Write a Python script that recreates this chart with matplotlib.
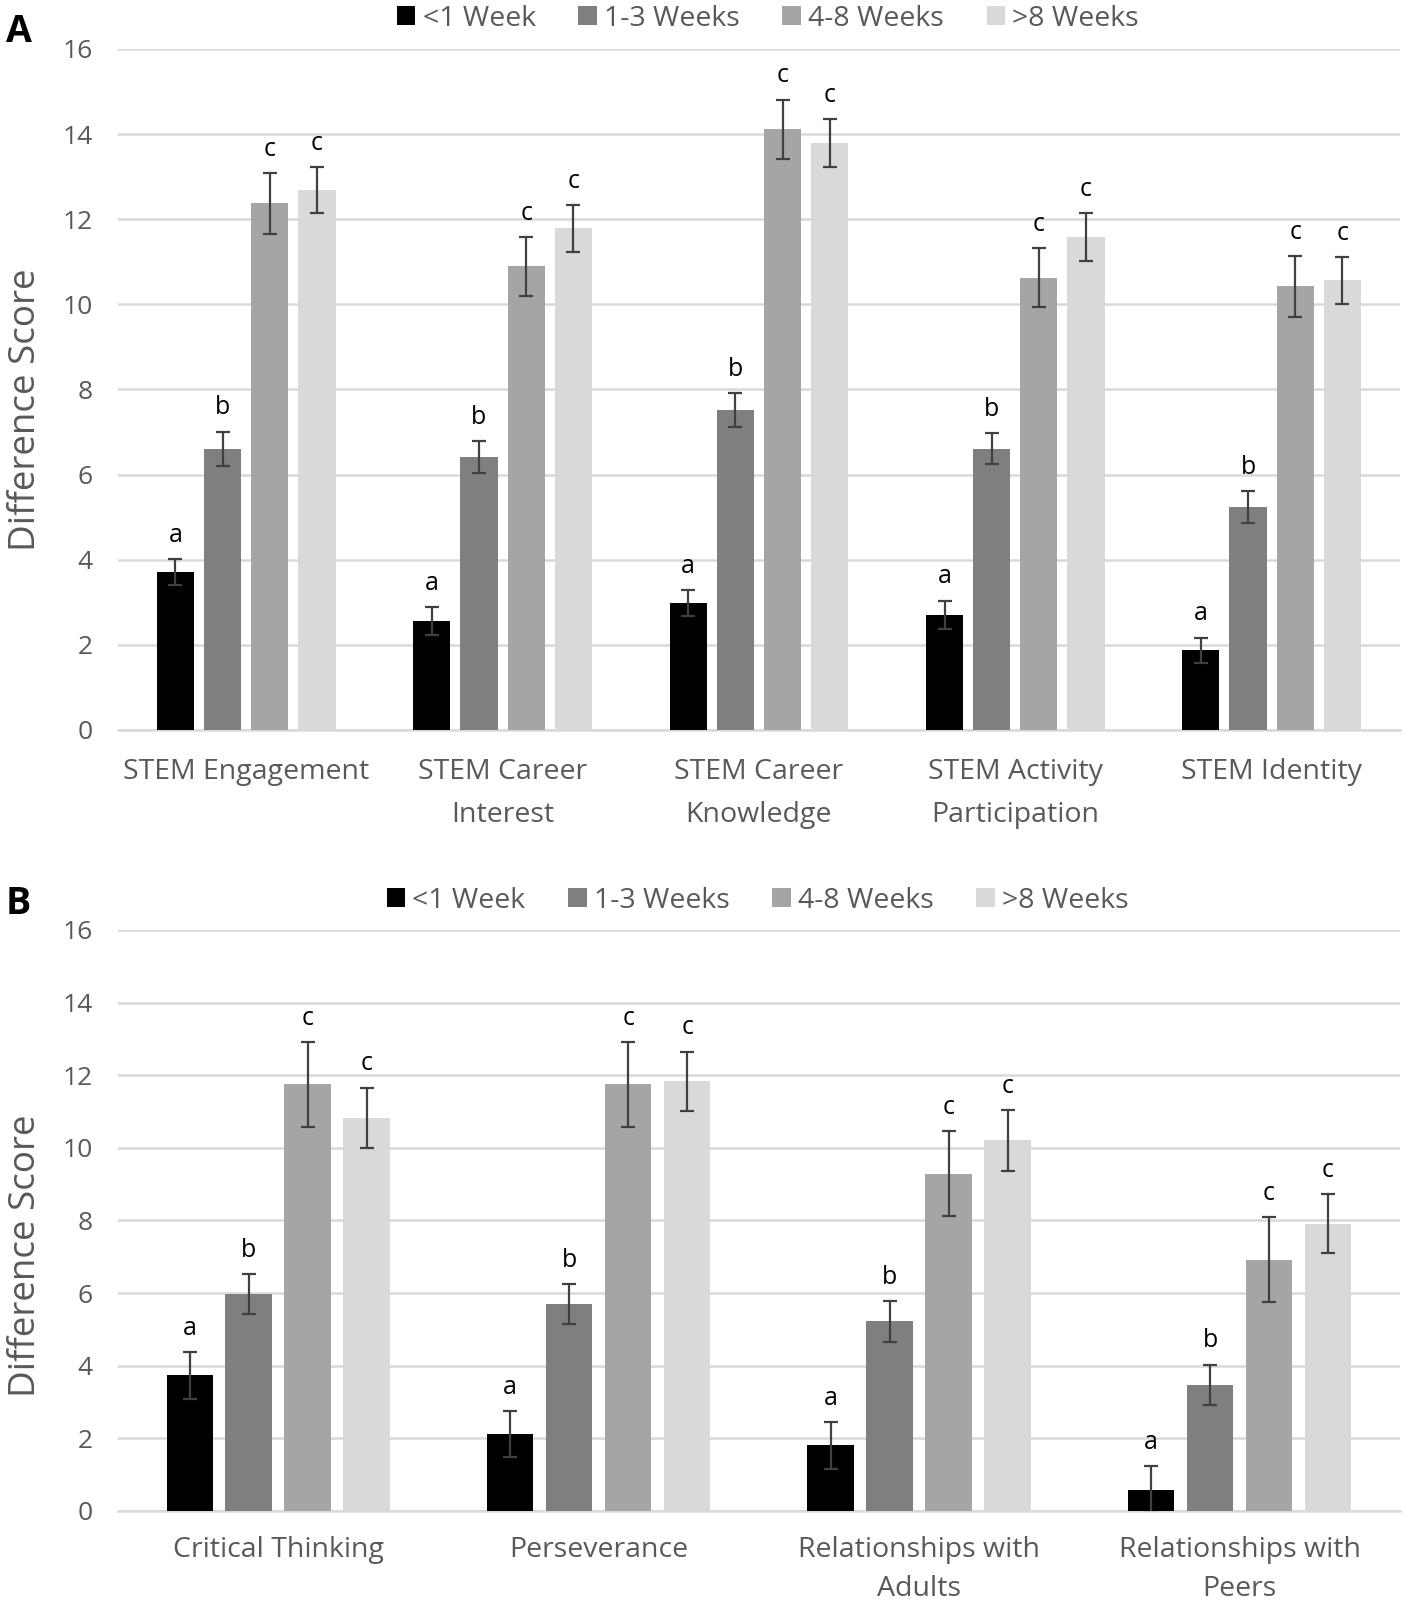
import numpy as np
import matplotlib
matplotlib.use('Agg')
import matplotlib.pyplot as plt

plt.rcParams['font.family'] = ['Open Sans', 'DejaVu Sans']

series = ['<1 Week', '1-3 Weeks', '4-8 Weeks', '>8 Weeks']
series_colors = ['#000000', '#7f7f7f', '#a5a5a5', '#d9d9d9']

# panel A
cats_a = ['STEM Engagement', 'STEM Career\nInterest', 'STEM Career\nKnowledge',
          'STEM Activity\nParticipation', 'STEM Identity']
vals_a = [[3.71, 2.55, 2.98, 2.71, 1.87],
          [6.61, 6.41, 7.51, 6.61, 5.24],
          [12.37, 10.89, 14.11, 10.63, 10.42],
          [12.68, 11.79, 13.79, 11.58, 10.56]]
errs_a = [[0.30, 0.33, 0.30, 0.33, 0.30],
          [0.40, 0.37, 0.40, 0.37, 0.37],
          [0.72, 0.70, 0.70, 0.70, 0.72],
          [0.54, 0.55, 0.57, 0.56, 0.55]]

# panel B
cats_b = ['Critical Thinking', 'Perseverance', 'Relationships with\nAdults',
          'Relationships with\nPeers']
vals_b = [[3.73, 2.12, 1.81, 0.58],
          [5.97, 5.70, 5.22, 3.47],
          [11.75, 11.75, 9.29, 6.92],
          [10.83, 11.83, 10.21, 7.91]]
errs_b = [[0.65, 0.64, 0.65, 0.65],
          [0.55, 0.56, 0.56, 0.56],
          [1.17, 1.17, 1.18, 1.17],
          [0.83, 0.82, 0.84, 0.82]]

sig_letters = ['a', 'b', 'c', 'c']

fig = plt.figure(figsize=(14.18, 16.05), dpi=100)
ax_a = fig.add_axes([0.0832, 0.5452, 0.904, 0.4243])
ax_b = fig.add_axes([0.0832, 0.0586, 0.904, 0.3620])

width = 0.145
step = 0.184
txt_grey = '#595959'


def draw_panel(ax, cats, vals, errs, legend_xy, ylab_y, lsp, xpad):
    x = np.arange(len(cats))
    for i in range(len(series)):
        xi = x + (i - 1.5) * step
        ax.bar(xi, vals[i], width, color=series_colors[i], label=series[i],
               yerr=errs[i], zorder=3,
               error_kw=dict(ecolor='#404040', elinewidth=1.6, capsize=5, capthick=1.6))
        for xx, v, e in zip(xi, vals[i], errs[i]):
            ax.annotate(sig_letters[i], (xx, v + e), xytext=(0, 8),
                        textcoords='offset points', ha='center', va='bottom',
                        fontsize=18, color='black')
    ax.set_ylim(0, 16)
    ax.set_xlim(-0.5, len(cats) - 0.5)
    ax.set_yticks(range(0, 17, 2))
    ax.set_xticks(x)
    ax.set_xticklabels(cats, linespacing=lsp)
    ax.yaxis.grid(True, color='#d9d9d9', lw=1.8, zorder=0)
    ax.set_axisbelow(True)
    for s in ['top', 'right', 'left']:
        ax.spines[s].set_visible(False)
    ax.spines['bottom'].set_color('#d9d9d9')
    ax.spines['bottom'].set_linewidth(1.8)
    ax.tick_params(axis='both', length=0, labelsize=19, colors=txt_grey)
    ax.tick_params(axis='x', pad=xpad, labelsize=20.5)
    ax.tick_params(axis='y', pad=18)
    ax.set_ylabel('Difference Score', fontsize=26.5, color=txt_grey)
    ax.yaxis.set_label_coords(-0.058, ylab_y)
    ax.legend(loc='center', bbox_to_anchor=legend_xy, ncol=4, frameon=False,
              fontsize=20.5, handlelength=0.65, handleheight=0.65, handletextpad=0.25,
              columnspacing=1.5, labelcolor=txt_grey)


draw_panel(ax_a, cats_a, vals_a, errs_a, (0.507, 1.044), 0.47, 1.75, 20)
draw_panel(ax_b, cats_b, vals_b, errs_b, (0.499, 1.050), 0.44, 1.55, 18)

fig.text(0.004, 0.980, 'A', fontsize=27, fontweight='bold', va='center')
fig.text(0.004, 0.437, 'B', fontsize=27, fontweight='bold', va='center')

fig.savefig('out.png', dpi=100)
